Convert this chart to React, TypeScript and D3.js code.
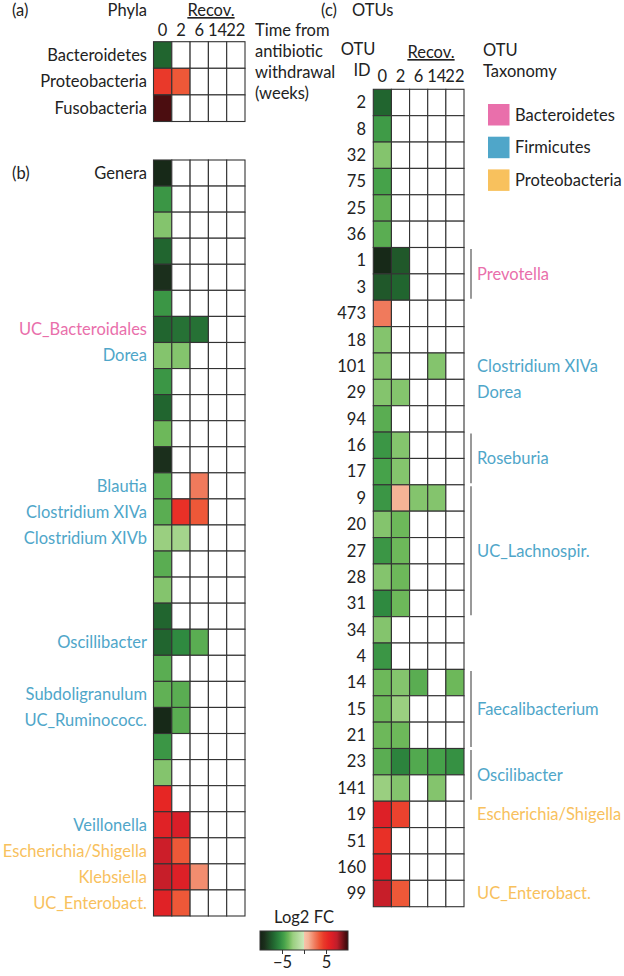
import { useEffect, useRef } from "react";
import * as d3 from "d3";

const WEEKS = ["0", "2", "6", "14", "22"];

// (a) phyla
const PHYLA = ["Bacteroidetes", "Proteobacteria", "Fusobacteria"];
const PHYLA_FC: (number | null)[][] = [[-7], [4.5, 3.5], [9.5]];

// (b) genera, one row per genus, "" = unlabelled row
const GENERA = [
  "", "", "", "", "", "", "UC_Bacteroidales", "Dorea", "", "", "", "",
  "Blautia", "Clostridium XIVa", "Clostridium XIVb", "", "", "", "Oscillibacter", "",
  "Subdoligranulum", "UC_Ruminococc.", "", "", "", "Veillonella",
  "Escherichia/Shigella", "Klebsiella", "UC_Enterobact.",
];
const GENERA_FC: (number | null)[][] = [
  [-9.5], [-5], [-3], [-7], [-9], [-5], [-7, -6.5, -6.5], [-3, -3], [-5], [-7], [-3.5], [-9],
  [-4, null, 2.5], [-4, 5, 3.5], [-2.5, -2], [-4], [-3], [-7], [-7, -5.5, -4], [-4],
  [-3.8, -4], [-9.5, -4], [-5], [-3], [5.5], [6, 6.5],
  [7, 3.5], [7.2, 6.2, 2], [6, 3.5],
];
const GENUS_PHYLUM: Record<string, string> = {
  UC_Bacteroidales: "Bacteroidetes",
  Dorea: "Firmicutes",
  Blautia: "Firmicutes",
  "Clostridium XIVa": "Firmicutes",
  "Clostridium XIVb": "Firmicutes",
  Oscillibacter: "Firmicutes",
  Subdoligranulum: "Firmicutes",
  "UC_Ruminococc.": "Firmicutes",
  Veillonella: "Firmicutes",
  "Escherichia/Shigella": "Proteobacteria",
  Klebsiella: "Proteobacteria",
  "UC_Enterobact.": "Proteobacteria",
};

// (c) OTUs
const OTU_IDS = [
  "2", "8", "32", "75", "25", "36", "1", "3", "473", "18", "101", "29", "94", "16", "17",
  "9", "20", "27", "28", "31", "34", "4", "14", "15", "21", "23", "141", "19", "51", "160", "99",
];
const OTU_FC: (number | null)[][] = [
  [-7], [-4.8], [-3], [-4.5], [-3.8], [-4], [-9.5, -7.5], [-7.5, -7], [2.5], [-3],
  [-3, null, null, -3], [-3, -3], [-4], [-5, -3], [-4.5, -3],
  [-5, 1, -3, -3], [-3, -3.5], [-5, -3.5], [-3, -3.5], [-5.5, -3.5], [-3], [-5],
  [-3.5, -3, -4, null, -3.5], [-3.5, -2.5], [-3.5, -3.5], [-4, -5.8, -4.2, -4.5, -5.2],
  [-2.5, -3, null, -3], [6.2, 4.2], [5], [6.2], [7.2, 3.5],
];
const OTU_TAXA = [
  { name: "Prevotella", phylum: "Bacteroidetes", first: "1", last: "3", bracket: true },
  { name: "Clostridium XIVa", phylum: "Firmicutes", first: "101", last: "101", bracket: false },
  { name: "Dorea", phylum: "Firmicutes", first: "29", last: "29", bracket: false },
  { name: "Roseburia", phylum: "Firmicutes", first: "16", last: "17", bracket: true },
  { name: "UC_Lachnospir.", phylum: "Firmicutes", first: "9", last: "31", bracket: true },
  { name: "Faecalibacterium", phylum: "Firmicutes", first: "14", last: "21", bracket: true },
  { name: "Oscilibacter", phylum: "Firmicutes", first: "23", last: "141", bracket: true },
  { name: "Escherichia/Shigella", phylum: "Proteobacteria", first: "19", last: "19", bracket: false },
  { name: "UC_Enterobact.", phylum: "Proteobacteria", first: "99", last: "99", bracket: false },
];

const LEGEND = ["Bacteroidetes", "Firmicutes", "Proteobacteria"];
const PHYLUM_COLORS: Record<string, string> = {
  Bacteroidetes: "#e96fab",
  Firmicutes: "#4fa6c9",
  Proteobacteria: "#f8c15d",
};
const CBAR_TICKS = [-5, 0, 5];

const FONT = "Lato, sans-serif";
const FS = 16.5;

// log2 FC colour map: greens below 0, reds above
const negColor = d3
  .scaleLinear<string>()
  .domain([-10, -9, -7, -5.5, -4.5, -3.5, -2.5, 0])
  .range(["#132213", "#1b2f1c", "#21652f", "#2f8a40", "#46a24a", "#6db85a", "#9acf80", "#cde8bc"])
  .clamp(true);
const posColor = d3
  .scaleLinear<string>()
  .domain([0, 1, 2.5, 3.5, 4.5, 5.5, 6.5, 7.5, 9.5, 10])
  .range(["#f7c4ac", "#f5b396", "#f07a5c", "#ee5838", "#e9392a", "#e62624", "#d91e28", "#bf1e2a", "#4b0d10", "#3e0a0c"])
  .clamp(true);
const fc = (v: number) => (v < 0 ? negColor(v) : posColor(v));

export default function App() {
  const svgRef = useRef<SVGSVGElement>(null);

  useEffect(() => {
    document.body.style.margin = "0";
    const svg = d3.select(svgRef.current);
    svg.selectAll("*").remove();

    const text = (x: number, y: number, s: string, anchor = "start", fill = "#222") =>
      svg.append("text")
        .attr("x", x)
        .attr("y", y)
        .attr("text-anchor", anchor)
        .attr("fill", fill)
        .attr("font-family", FONT)
        .attr("font-size", FS)
        .text(s);

    const heat = (values: (number | null)[][], x0: number, x1: number, y0: number, y1: number) => {
      const x = d3.scaleBand<string>().domain(WEEKS).range([x0, x1]);
      const y = d3.scaleBand<number>().domain(d3.range(values.length)).range([y0, y1]);
      const g = svg.append("g");
      values.forEach((row, i) => {
        WEEKS.forEach((w, j) => {
          const v = row[j];
          g.append("rect")
            .attr("x", x(w)!)
            .attr("y", y(i)!)
            .attr("width", x.bandwidth())
            .attr("height", y.bandwidth())
            .attr("fill", v == null ? "#fff" : fc(v))
            .attr("stroke", "#333")
            .attr("stroke-width", 1.1);
        });
      });
      return { x, y };
    };

    const weekLabels = (x: d3.ScaleBand<string>, y: number) =>
      WEEKS.forEach((w) => text(x(w)! + x.bandwidth() / 2, y, w, "middle"));

    // ---- (a) phyla
    text(12, 16, "(a)");
    text(147, 16, "Phyla", "end");
    text(211, 16, "Recov.", "middle").style("text-decoration", "underline");
    const a = heat(PHYLA_FC, 153.5, 245, 41.7, 121.5);
    weekLabels(a.x, 36);
    PHYLA.forEach((p, i) => text(147, a.y(i)! + a.y.bandwidth() / 2, p, "end").attr("dy", "0.35em"));
    ["Time from", "antibiotic", "withdrawal", "(weeks)"].forEach((s, i) => text(255, 36 + i * 21, s));

    // ---- (b) genera
    const b = heat(GENERA_FC, 153.5, 245, 160, 916);
    text(12, b.y(0)! + b.y.bandwidth() / 2, "(b)").attr("dy", "0.35em");
    text(147, b.y(0)! + b.y.bandwidth() / 2, "Genera", "end").attr("dy", "0.35em");
    GENERA.forEach((gname, i) => {
      if (!gname) return;
      text(147, b.y(i)! + b.y.bandwidth() / 2, gname, "end", PHYLUM_COLORS[GENUS_PHYLUM[gname]]).attr("dy", "0.35em");
    });

    // ---- (c) OTUs
    text(321, 16, "(c)");
    text(352, 16, "OTUs");
    text(358, 55, "OTU", "middle");
    text(362, 76, "ID", "middle");
    text(431, 58, "Recov.", "middle").style("text-decoration", "underline");
    text(483, 56, "OTU");
    text(483, 77, "Taxonomy");
    const c = heat(OTU_FC, 373.3, 464, 89.3, 906.7);
    weekLabels(c.x, 82);
    OTU_IDS.forEach((id, i) => text(366, c.y(i)! + c.y.bandwidth() / 2, id, "end").attr("dy", "0.35em"));

    OTU_TAXA.forEach((t) => {
      const i0 = OTU_IDS.indexOf(t.first);
      const i1 = OTU_IDS.indexOf(t.last);
      const top = c.y(i0)!;
      const bot = c.y(i1)! + c.y.bandwidth();
      if (t.bracket) {
        svg.append("line")
          .attr("x1", 471).attr("x2", 471)
          .attr("y1", top + 1.5).attr("y2", bot - 1.5)
          .attr("stroke", "#555").attr("stroke-width", 1.2);
      }
      text(477, (top + bot) / 2, t.name, "start", PHYLUM_COLORS[t.phylum]).attr("dy", "0.35em");
    });

    // legend
    LEGEND.forEach((p, i) => {
      const cy = 115 + i * 32.7;
      svg.append("rect")
        .attr("x", 488).attr("y", cy - 11)
        .attr("width", 21.5).attr("height", 21.5)
        .attr("fill", PHYLUM_COLORS[p]);
      text(515, cy, p).attr("dy", "0.35em");
    });

    // ---- colour bar
    const cx = d3.scaleLinear().domain([-10, 10]).range([260, 348]);
    const grad = svg.append("defs").append("linearGradient").attr("id", "fcgrad");
    d3.range(-10, 10.01, 0.5).forEach((v) => {
      grad.append("stop")
        .attr("offset", `${((v + 10) / 20) * 100}%`)
        .attr("stop-color", v === 0 ? negColor(0) : fc(v));
      if (v === 0) grad.append("stop").attr("offset", "50%").attr("stop-color", posColor(0));
    });
    text(304, 923, "Log2 FC", "middle");
    svg.append("rect")
      .attr("x", 260).attr("y", 931)
      .attr("width", 88).attr("height", 19)
      .attr("fill", "url(#fcgrad)")
      .attr("stroke", "#333").attr("stroke-width", 1);
    const axis = svg.append("g")
      .attr("transform", "translate(0,950)")
      .call(
        d3.axisBottom(cx)
          .tickValues(CBAR_TICKS)
          .tickSize(4)
          .tickPadding(2)
          .tickFormat((d) => (d === 0 ? "" : d3.format("")(d as number)))
      );
    axis.select(".domain").remove();
    axis.selectAll(".tick line").attr("stroke", "#333");
    axis.selectAll(".tick text")
      .attr("fill", "#222")
      .attr("font-family", FONT)
      .attr("font-size", FS)
      .attr("dy", "0.71em");
  }, []);

  return <svg ref={svgRef} width={624} height={976} style={{ display: "block", background: "#fff" }} />;
}
